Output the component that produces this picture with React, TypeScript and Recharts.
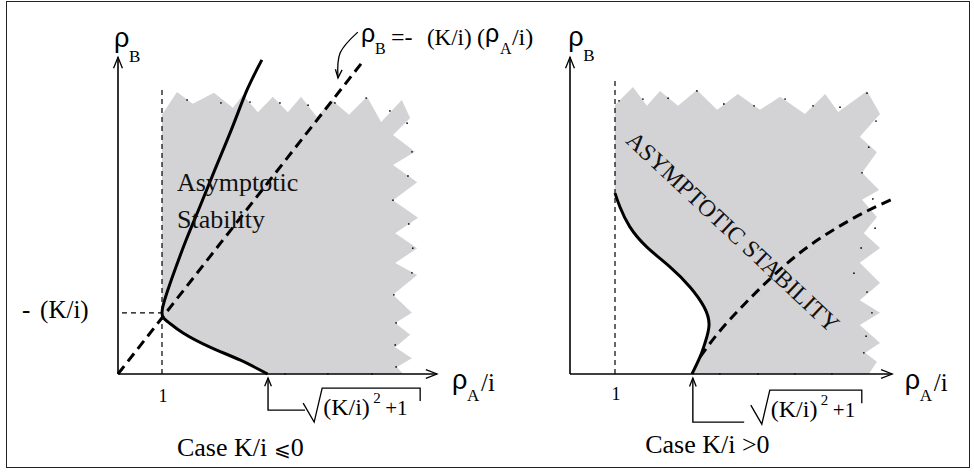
import React from "react";
import { ComposedChart, Area, Line, Scatter, XAxis, YAxis, ReferenceDot } from "recharts";

type Pt = { x: number; y: number };
const pts = (rows: number[][]): Pt[] => rows.map(([x, y]) => ({ x, y }));

// ---- case K/i <= 0 (left plane), x = rhoA/i, y = rhoB ----
const leftAxisX = pts([[0, 0], [7.25, 0]]);
const leftAxisY = pts([[0, 0], [0, 7.2]]);
const leftUnitGuide = pts([[1, 0], [1, 6.5]]);
const leftLevelGuide = pts([[0.09, 1.39], [1, 1.39]]);
const leftDiagonal = pts([[0, 0], [5.57, 7.11]]);
const leftBoundary = pts([
  [3.4, 0], [2.77, 0.32], [2.09, 0.61], [1.48, 0.93], [1.14, 1.18], [1.0, 1.39],
  [1.11, 1.84], [1.27, 2.3], [1.55, 3.05], [1.86, 3.8], [2.2, 4.64], [2.6, 5.61],
  [2.93, 6.45], [3.27, 7.14],
]);
const leftRegion = pts([
  [3.4, 0], [2.77, 0.32], [2.09, 0.61], [1.48, 0.93], [1.14, 1.18], [1.0, 1.39],
  [1.0, 5.89], [1.34, 6.41], [1.7, 6.14], [2.18, 6.39], [2.61, 6.05], [2.84, 6.34],
  [3.18, 5.95], [3.52, 6.3], [3.86, 5.95], [4.16, 6.3], [4.52, 5.84], [4.86, 6.23],
  [5.25, 5.89], [5.66, 6.3], [5.98, 5.73], [6.45, 6.23], [6.64, 5.82],
  [6.25, 5.43], [6.75, 5.05], [6.25, 4.75], [6.8, 4.36], [6.25, 3.95], [6.82, 3.55],
  [6.3, 3.2], [6.8, 2.86], [6.3, 2.52], [6.8, 2.25], [6.25, 1.8], [6.68, 1.39],
  [6.3, 1.16], [6.64, 0.89], [6.3, 0.61], [6.68, 0.36], [6.34, 0.16], [6.48, 0],
]);
const leftEdgeDots = pts([
  [1.57, 6.23], [2.34, 6.16], [3.0, 6.18], [3.68, 6.16], [4.32, 6.11], [4.93, 6.16],
  [5.64, 6.27], [6.18, 5.98], [6.57, 5.7], [6.68, 5.05], [6.59, 4.5], [6.25, 3.95],
  [6.61, 3.41], [6.7, 2.86], [6.68, 2.3], [6.27, 1.8], [6.32, 1.16], [6.3, 0.66],
  [6.32, 0.16], [3.8, 0], [4.77, 0], [5.77, 0],
]);
const leftEquationArrow = pts([[5.45, 7.77], [5.05, 7.3], [5.0, 6.73]]);
const leftRootArrow = pts([[4.25, -0.82], [3.41, -0.82], [3.41, -0.09]]);

// ---- case K/i > 0 (right plane) ----
const rightAxisX = pts([[0, 0], [7.16, 0]]);
const rightAxisY = pts([[0, 0], [0, 7.04]]);
const rightUnitGuide = pts([[1, 0], [1, 6.58]]);
const rightBoundary = pts([
  [1.0, 4.02], [1.11, 3.71], [1.33, 3.27], [1.71, 2.82], [2.22, 2.38], [2.67, 1.93],
  [2.98, 1.49], [3.09, 1.09], [3.0, 0.69], [2.89, 0.38], [2.71, 0],
]);
const rightDashed = pts([
  [2.89, 0.38], [3.3, 0.92], [3.75, 1.42], [4.2, 1.88], [4.7, 2.35], [5.25, 2.8],
  [5.85, 3.2], [6.5, 3.57], [7.22, 3.91],
]);
const rightRegion = pts([
  [2.71, 0], [2.89, 0.38], [3.0, 0.69], [3.09, 1.09], [2.98, 1.49], [2.67, 1.93],
  [2.22, 2.38], [1.71, 2.82], [1.33, 3.27], [1.11, 3.71], [1.0, 4.02],
  [1.0, 5.98], [1.4, 6.38], [1.71, 5.96], [2.0, 6.29], [2.4, 5.96], [2.82, 6.31],
  [3.27, 5.87], [3.73, 6.22], [4.22, 5.87], [4.67, 6.16], [5.22, 5.78], [5.67, 6.22],
  [5.96, 5.82], [6.6, 6.29], [6.89, 5.78],
  [6.44, 5.27], [6.82, 4.93], [6.49, 4.47], [6.87, 4.09], [6.49, 3.87], [6.82, 3.49],
  [6.53, 3.13], [6.89, 2.8], [6.44, 2.47], [6.89, 2.02], [6.44, 1.64], [6.89, 1.36],
  [6.44, 1.09], [6.89, 0.69], [6.56, 0.47], [6.82, 0.27], [6.64, 0],
]);
const rightEdgeDots = pts([
  [1.09, 6.07], [1.62, 6.11], [2.18, 6.13], [2.82, 6.29], [3.42, 6.0], [4.09, 5.96],
  [4.78, 6.11], [5.4, 5.96], [6.0, 5.93], [6.6, 6.24], [6.8, 5.62], [6.64, 5.04],
  [6.49, 4.47], [6.73, 3.89], [6.78, 3.24], [6.47, 2.8], [6.31, 2.24], [6.6, 1.82],
  [6.71, 1.36], [6.58, 0.84], [6.53, 0.47], [3.33, 0], [4.18, 0], [5.0, 0], [5.82, 0],
]);
const rightRootArrow = pts([[3.87, -1.07], [2.73, -1.07], [2.73, -0.09]]);

// ---- layout ----
const W = 974;
const H = 472;
const LEFT = { ox: 118, oy: 374, unit: 44 };
const RIGHT = { ox: 570, oy: 374, unit: 45 };
const xDom = (p: typeof LEFT): [number, number] => [-p.ox / p.unit, (W - p.ox) / p.unit];
const yDom = (p: typeof LEFT): [number, number] => [-(H - p.oy) / p.unit, p.oy / p.unit];

const GRAY = "#d3d3d5";
const SERIF = "Liberation Serif, Tinos, Times New Roman, Times, DejaVu Serif, serif";
const SANS = "Liberation Sans, Arial, sans-serif";

function arrowDot(data: Pt[], len = 12, spread = 0.38) {
  const n = data.length;
  const a = data[n - 2];
  const b = data[n - 1];
  const ang = Math.atan2(-(b.y - a.y), b.x - a.x);
  return (p: any) => {
    if (p.index !== n - 1) return <g key={`d${p.index}`} />;
    const { cx, cy } = p;
    const x1 = cx - len * Math.cos(ang - spread);
    const y1 = cy - len * Math.sin(ang - spread);
    const x2 = cx - len * Math.cos(ang + spread);
    const y2 = cy - len * Math.sin(ang + spread);
    return (
      <path key="tip" d={`M${x1},${y1}L${cx},${cy}L${x2},${y2}`} fill="none" stroke="#000" strokeWidth={1.3} />
    );
  };
}

function seg(data: Pt[], width: number, dash?: string, type: any = "linear", dot: any = false) {
  return (
    <Line
      data={data}
      dataKey="y"
      type={type}
      stroke="#000"
      strokeWidth={width}
      strokeDasharray={dash}
      dot={dot}
      activeDot={false}
      legendType="none"
      isAnimationActive={false}
    />
  );
}

function region(data: Pt[]) {
  return (
    <Area
      data={data}
      dataKey="y"
      type="linear"
      baseValue={0}
      fill={GRAY}
      fillOpacity={1}
      stroke="none"
      dot={false}
      activeDot={false}
      legendType="none"
      isAnimationActive={false}
    />
  );
}

function dots(data: Pt[]) {
  return (
    <Scatter
      data={data}
      dataKey="y"
      legendType="none"
      isAnimationActive={false}
      shape={(p: any) => <circle cx={p.cx} cy={p.cy} r={0.9} fill="#111" />}
    />
  );
}

const text = (x: number, y: number, render: (cx: number, cy: number) => React.ReactNode) => (
  <ReferenceDot x={x} y={y} r={0} shape={(p: any) => <g>{render(p.cx, p.cy)}</g>} />
);

const serif = (size: number): React.CSSProperties => ({ fontFamily: SERIF, fontSize: size });
const sans = (size: number): React.CSSProperties => ({ fontFamily: SANS, fontSize: size });

// rho with a subscript letter, optionally followed by "/i"
const rhoSub = (cx: number, cy: number, sub: string, tail = "", subDy = 15) => (
  <g fill="#000">
    <text x={cx} y={cy} style={sans(27)}>ρ</text>
    <text x={cx + 15} y={cy + subDy} style={serif(17)}>{sub}</text>
    {tail && <text x={cx + 29} y={cy + 2} style={serif(25)}>{tail}</text>}
  </g>
);

const rootLabel = (cx: number, cy: number, bar: number) => (
  <g fill="#000">
    <path d={`M${cx - 19},${cy + 15}L${cx - 8},${cy + 34}L${cx},${cy}H${cx + bar}V${cy + 13}`} fill="none" stroke="#000" strokeWidth={1.3} />
    <text x={cx + 1} y={cy + 27} style={serif(24)}>(K/i)</text>
    <text x={cx + 51} y={cy + 15} style={serif(15)}>2</text>
    <text x={cx + 63} y={cy + 27} style={serif(21)}>+1</text>
  </g>
);

const frame = { width: W, height: H, margin: { top: 0, right: 0, bottom: 0, left: 0 } };

function LeftPlane() {
  return (
    <ComposedChart {...frame}>
      <XAxis type="number" dataKey="x" domain={xDom(LEFT)} hide allowDataOverflow />
      <YAxis type="number" dataKey="y" domain={yDom(LEFT)} hide allowDataOverflow />
      {region(leftRegion)}
      {dots(leftEdgeDots)}
      {seg(leftUnitGuide, 1.2, "5 4")}
      {seg(leftLevelGuide, 1.2, "5 4")}
      {seg(leftDiagonal, 3, "10 6")}
      {seg(leftBoundary, 3, undefined, "natural")}
      {seg(leftAxisX, 1.6, undefined, "linear", arrowDot(leftAxisX))}
      {seg(leftAxisY, 1.6, undefined, "linear", arrowDot(leftAxisY))}
      {seg(leftEquationArrow, 1.3, undefined, "natural", arrowDot(leftEquationArrow, 9))}
      {seg(leftRootArrow, 1.4, undefined, "linear", arrowDot(leftRootArrow, 9))}
      {text(-0.09, 7.43, (cx, cy) => rhoSub(cx, cy, "B"))}
      {text(5.52, 7.48, (cx, cy) => (
        <g fill="#000">
          <text x={cx} y={cy - 3} style={sans(25)}>ρ</text>
          <text x={cx + 14} y={cy + 9} style={serif(16)}>B</text>
          <text x={cx + 30} y={cy} style={serif(24)}>=-</text>
          <text x={cx + 66} y={cy} style={serif(23)}>(K/i)</text>
          <text x={cx + 116} y={cy} style={serif(24)}>(</text>
          <text x={cx + 124} y={cy - 3} style={sans(25)}>ρ</text>
          <text x={cx + 139} y={cy + 9} style={serif(16)}>A</text>
          <text x={cx + 151} y={cy} style={serif(24)}>/i)</text>
        </g>
      ))}
      {text(-2.18, 1.27, (cx, cy) => (
        <g fill="#000">
          <text x={cx} y={cy} style={serif(25)}>-</text>
          <text x={cx + 18} y={cy} style={serif(25)}>(K/i)</text>
        </g>
      ))}
      {text(1.02, -0.64, (cx, cy) => (
        <text x={cx} y={cy} textAnchor="middle" style={serif(18)}>1</text>
      ))}
      {text(1.34, 4.16, (cx, cy) => (
        <text x={cx} y={cy} style={serif(26)} fill="#111">Asymptotic</text>
      ))}
      {text(1.34, 3.32, (cx, cy) => (
        <text x={cx} y={cy} style={serif(26)} fill="#111">Stability</text>
      ))}
      {text(7.59, -0.34, (cx, cy) => rhoSub(cx, cy, "A", "/i", 12))}
      {text(4.64, -0.32, (cx, cy) => rootLabel(cx, cy, 98))}
      {text(1.34, -1.86, (cx, cy) => (
        <text x={cx} y={cy} style={serif(26)}>
          Case K/i <tspan style={{ fontSize: 20 }}>⩽</tspan>0
        </text>
      ))}
    </ComposedChart>
  );
}

function RightPlane() {
  return (
    <ComposedChart {...frame}>
      <XAxis type="number" dataKey="x" domain={xDom(RIGHT)} hide allowDataOverflow />
      <YAxis type="number" dataKey="y" domain={yDom(RIGHT)} hide allowDataOverflow />
      {region(rightRegion)}
      {dots(rightEdgeDots)}
      {seg(rightUnitGuide, 1.2, "5 4")}
      {seg(rightDashed, 3, "10 6", "natural")}
      {seg(rightBoundary, 3, undefined, "natural")}
      {seg(rightAxisX, 1.6, undefined, "linear", arrowDot(rightAxisX))}
      {seg(rightAxisY, 1.6, undefined, "linear", arrowDot(rightAxisY))}
      {seg(rightRootArrow, 1.4, undefined, "linear", arrowDot(rightRootArrow, 9))}
      {text(-0.04, 7.29, (cx, cy) => rhoSub(cx, cy, "B"))}
      {text(1.02, -0.58, (cx, cy) => (
        <text x={cx} y={cy} textAnchor="middle" style={serif(18)}>1</text>
      ))}
      {text(3.62, 3.16, (cx, cy) => (
        <text
          x={cx}
          y={cy}
          textAnchor="middle"
          dominantBaseline="central"
          transform={`rotate(43 ${cx} ${cy})`}
          style={serif(24)}
          fill="#111"
        >
          ASYMPTOTIC STABILITY
        </text>
      ))}
      {text(7.44, -0.33, (cx, cy) => rhoSub(cx, cy, "A", "/i", 12))}
      {text(4.44, -0.36, (cx, cy) => rootLabel(cx, cy, 92))}
      {text(1.67, -1.76, (cx, cy) => (
        <text x={cx} y={cy} style={serif(26)}>Case K/i &gt;0</text>
      ))}
    </ComposedChart>
  );
}

export default function App() {
  return (
    <div style={{ position: "fixed", left: 0, top: 0, width: W, height: H, background: "#fff" }}>
      <div
        style={{
          position: "absolute",
          left: 6,
          top: 1,
          width: 962,
          height: 465,
          border: "1.5px solid #222",
        }}
      />
      <div style={{ position: "absolute", left: 0, top: 0 }}>
        <LeftPlane />
      </div>
      <div style={{ position: "absolute", left: 0, top: 0 }}>
        <RightPlane />
      </div>
    </div>
  );
}
